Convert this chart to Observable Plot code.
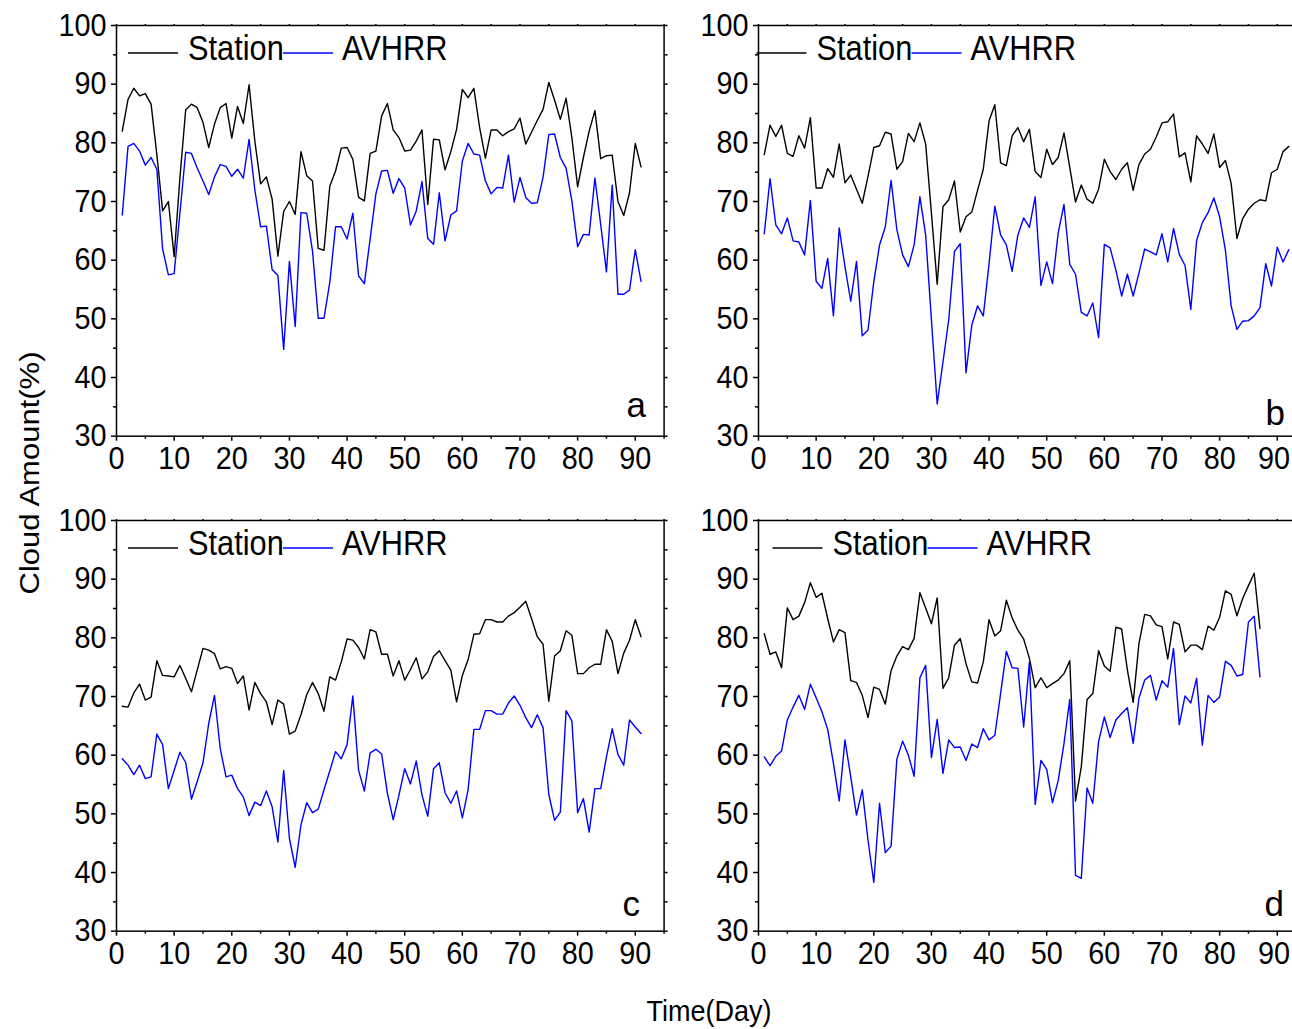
<!DOCTYPE html>
<html>
<head>
<meta charset="utf-8">
<script src="https://cdn.jsdelivr.net/npm/d3@7"></script>
<script src="https://cdn.jsdelivr.net/npm/@observablehq/plot@0.6"></script>
<style>
html, body { margin: 0; padding: 0; background: #fff; }
body { width: 1292px; height: 1029px; overflow: hidden; position: relative; }
#ylab { position: absolute; left: 30px; top: 473px; transform: translate(-50%, -50%) rotate(-90deg) scaleY(0.9);
        white-space: nowrap; font-family: "Liberation Sans", Arial, sans-serif; font-size: 31px; color: #000; }
#xlab { position: absolute; left: 709px; top: 1011px; transform: translate(-50%, -50%) scaleX(0.9);
        white-space: nowrap; font-family: "Liberation Sans", Arial, sans-serif; font-size: 30px; color: #000; }
</style>
</head>
<body>
<div id="ylab"></div>
<div id="xlab"></div>
<script>
// ---------------- data ----------------
const seriesNames = ["Station", "AVHRR"];
const seriesColors = ["#000000", "#0000ff"];
const panelLetters = ["a", "b", "c", "d"];
const yMajor = [30, 40, 50, 60, 70, 80, 90, 100];
const yMinor = [35, 45, 55, 65, 75, 85, 95];
const yAll = [30, 35, 40, 45, 50, 55, 60, 65, 70, 75, 80, 85, 90, 95, 100];
const xMajor = [0, 10, 20, 30, 40, 50, 60, 70, 80, 90];
const xMinor = [5, 15, 25, 35, 45, 55, 65, 75, 85, 95];
const xAll = [0, 5, 10, 15, 20, 25, 30, 35, 40, 45, 50, 55, 60, 65, 70, 75, 80, 85, 90, 95];
const xDomain = [0, 95];
const yDomain = [30, 100];
const axisTitleX = "Time(Day)";
const axisTitleY = "Cloud Amount(%)";

// panel a (days 1..91)
const stationA = [82.0, 87.4, 89.3, 88.0, 88.4, 86.6, 78.0, 68.4, 70.0, 60.6,
  74.0, 85.6, 86.6, 86.0, 83.5, 79.2, 83.2, 86.0, 86.7, 80.8,
  86.2, 83.3, 89.9, 80.3, 73.0, 74.2, 70.4, 60.7, 68.3, 70.0,
  67.8, 78.5, 74.4, 73.5, 62.0, 61.7, 72.6, 75.2, 79.1, 79.2,
  77.2, 70.7, 70.1, 78.2, 78.6, 84.6, 86.7, 82.2, 80.9, 78.6,
  78.75, 80.3, 82.2, 69.5, 80.6, 80.5, 75.4, 78.5, 82.3, 89.1,
  87.7, 89.3, 82.6, 77.4, 82.2, 82.2, 81.2, 81.9, 82.4, 84.2,
  79.8, 81.8, 83.8, 85.7, 90.3, 87.3, 84.0, 87.6, 80.9, 72.5,
  77.5, 82.0, 85.5, 77.3, 77.8, 77.9, 70.0, 67.6, 71.5, 79.9,
  75.9];
const avhrrA = [67.7, 79.4, 79.9, 78.6, 76.2, 77.5, 75.5, 61.9, 57.5, 57.7,
  68.0, 78.4, 78.2, 75.7, 73.5, 71.2, 74.2, 76.3, 76.0, 74.3,
  75.5, 74.0, 80.6, 72.0, 65.7, 65.8, 58.4, 57.4, 44.8, 59.8,
  48.7, 68.1, 68.0, 61.6, 50.1, 50.1, 56.2, 65.7, 65.7, 63.6,
  68.0, 57.3, 56.0, 63.6, 71.3, 75.2, 75.3, 71.4, 73.9, 72.3,
  66.0, 68.4, 73.4, 63.7, 62.7, 71.5, 63.3, 67.7, 68.4, 76.9,
  79.9, 78.1, 77.9, 73.5, 71.3, 72.4, 72.3, 77.9, 69.9, 74.1,
  70.7, 69.7, 69.8, 74.1, 81.4, 81.5, 77.5, 75.7, 70.1, 62.3,
  64.4, 64.3, 74.0, 66.1, 58.0, 72.8, 54.2, 54.2, 54.9, 61.8,
  56.4];

// panel b (days 1..92)
const stationB = [78.0, 83.0, 81.1, 83.0, 78.2, 77.7, 81.2, 79.1, 84.3, 72.3,
  72.3, 75.6, 74.1, 79.8, 73.2, 74.5, 72.1, 69.7, 74.3, 79.2,
  79.5, 81.8, 81.5, 75.5, 76.8, 81.6, 80.2, 83.4, 79.8, 68.0,
  55.9, 69.1, 70.3, 73.5, 64.8, 67.4, 68.2, 71.9, 75.5, 83.75,
  86.5, 76.6, 76.1, 81.2, 82.6, 80.2, 82.3, 75.1, 74.1, 78.9,
  76.3, 77.5, 81.7, 75.8, 69.9, 72.8, 70.4, 69.7, 72.1, 77.2,
  75.1, 73.75, 75.5, 76.6, 71.9, 76.3, 78.1, 78.9, 81.0, 83.4,
  83.6, 84.9, 77.6, 78.3, 73.35, 81.2, 79.8, 78.2, 81.5, 75.8,
  77.0, 73.1, 63.7, 67.1, 68.7, 69.7, 70.3, 70.1, 74.9, 75.5,
  78.5, 79.4];
const avhrrB = [64.5, 73.9, 66.0, 64.5, 67.2, 63.3, 63.1, 60.9, 70.2, 56.4,
  55.2, 60.3, 50.5, 65.5, 58.9, 53.0, 59.8, 47.1, 48.1, 56.3,
  62.6, 65.7, 73.6, 65.2, 60.9, 58.9, 62.6, 70.8, 64.3, 49.8,
  35.5, 42.6, 49.8, 61.5, 62.8, 40.8, 48.9, 52.2, 50.5, 59.4,
  69.2, 64.3, 62.6, 58.1, 64.3, 67.2, 65.6, 70.8, 55.7, 59.7,
  56.0, 64.7, 69.5, 59.3, 57.6, 51.1, 50.5, 52.7, 46.8, 62.7,
  62.1, 58.3, 53.9, 57.6, 53.9, 57.8, 61.9, 61.4, 60.9, 64.5,
  59.7, 65.4, 61.0, 59.1, 51.6, 63.3, 66.4, 68.1, 70.6, 67.4,
  61.7, 52.2, 48.2, 49.6, 49.7, 50.5, 51.9, 59.4, 55.6, 62.2,
  59.7, 61.8];

// panel c (days 1..91)
const stationC = [68.35, 68.2, 70.6, 72.1, 69.4, 69.9, 76.1, 73.6, 73.5, 73.35,
  75.3, 73.1, 70.8, 74.5, 78.2, 77.9, 77.3, 74.7, 75.1, 74.8,
  72.2, 73.5, 67.7, 72.4, 70.5, 69.1, 65.2, 69.4, 68.7, 63.6,
  64.1, 66.9, 70.3, 72.4, 70.5, 67.5, 73.35, 72.8, 75.9, 79.8,
  79.6, 78.35, 76.4, 81.4, 81.0, 77.2, 77.2, 73.5, 76.1, 72.8,
  74.6, 76.6, 73.0, 74.2, 76.8, 77.8, 76.1, 74.5, 69.1, 73.6,
  76.3, 80.6, 80.7, 83.1, 83.1, 82.7, 82.7, 83.7, 84.3, 85.2,
  86.25, 83.3, 80.2, 78.9, 69.2, 76.9, 77.8, 81.2, 80.45, 73.9,
  73.9, 74.9, 75.5, 75.5, 81.4, 79.4, 73.9, 77.4, 79.6, 83.1,
  80.2];
const avhrrC = [59.4, 58.3, 56.7, 58.3, 56.0, 56.3, 63.6, 61.8, 54.3, 57.4,
  60.5, 58.75, 52.5, 55.5, 58.7, 65.4, 70.2, 61.1, 56.3, 56.6,
  54.3, 52.9, 49.7, 52.0, 51.4, 53.9, 51.2, 45.2, 57.4, 45.8,
  40.9, 48.1, 51.9, 50.2, 50.8, 54.1, 57.3, 60.6, 59.4, 61.8,
  70.1, 57.4, 53.9, 60.4, 61.0, 60.2, 53.5, 49.0, 53.2, 57.7,
  55.1, 59.0, 53.2, 49.6, 57.7, 58.7, 53.6, 51.8, 53.9, 49.3,
  54.1, 64.4, 64.4, 67.6, 67.6, 67.0, 67.0, 68.9, 70.1, 68.5,
  66.4, 64.7, 66.9, 64.7, 53.3, 48.9, 50.3, 67.6, 65.85, 50.2,
  52.6, 46.9, 54.3, 54.3, 59.7, 64.5, 60.1, 58.3, 66.0, 64.8,
  63.7];

// panel d (days 1..87)
const stationD = [80.7, 77.2, 77.6, 74.9, 85.1, 83.1, 83.7, 86.0, 89.4, 86.9,
  87.6, 83.3, 79.3, 81.4, 80.9, 72.7, 72.4, 70.2, 66.4, 71.6,
  71.2, 68.7, 74.4, 76.9, 78.5, 78.0, 79.9, 87.7, 85.1, 82.4,
  86.8, 71.4, 73.2, 78.75, 79.9, 75.6, 72.5, 72.3, 75.9, 83.1,
  80.3, 81.2, 86.4, 83.4, 81.3, 79.8, 76.5, 71.5, 73.2, 71.5,
  72.2, 72.8, 73.9, 76.1, 52.2, 58.0, 69.5, 70.5, 77.8, 75.2,
  74.3, 81.8, 81.5, 74.5, 69.0, 79.0, 84.0, 83.75, 82.2, 81.9,
  76.4, 82.7, 82.3, 77.6, 78.75, 78.75, 78.0, 82.0, 81.3, 83.5,
  88.0, 87.4, 83.75, 86.7, 88.9, 91.0, 81.6];
const avhrrD = [59.7, 58.2, 59.8, 60.7, 66.0, 68.2, 70.2, 67.8, 72.1, 69.8,
  67.4, 64.4, 58.6, 52.2, 62.6, 56.3, 49.8, 54.1, 45.5, 38.3,
  51.8, 43.4, 44.5, 59.3, 62.4, 60.0, 56.4, 73.2, 75.3, 59.6,
  66.1, 56.9, 62.6, 61.3, 61.4, 59.1, 61.9, 61.3, 64.5, 62.6,
  63.4, 70.5, 77.7, 74.9, 74.8, 64.8, 75.9, 51.6, 59.1, 57.6,
  51.9, 55.7, 62.0, 69.5, 39.5, 39.0, 54.4, 51.8, 62.3, 66.5,
  63.0, 66.0, 67.1, 68.1, 62.0, 69.7, 72.8, 73.6, 69.4, 72.7,
  71.6, 78.2, 65.2, 70.1, 68.9, 73.1, 61.7, 70.2, 69.0, 69.9,
  76.0, 75.3, 73.5, 73.75, 82.7, 83.7, 73.35];

// ---------------- fonts ----------------
const FONT = '"Liberation Sans", Arial, sans-serif';
const TICK_FS = 32, TICK_SQUEEZE = 0.9;
const LEGEND_FS = 35, LEGEND_SQUEEZE = 0.88;
const LETTER_FS = 35, LETTER_SQUEEZE = 0.88;
const PAGE_W = 1292;

document.getElementById("xlab").textContent = axisTitleX;
document.getElementById("ylab").textContent = axisTitleY;

// ---------------- layout ----------------
const FRAME_W = 547.6, FRAME_H = 410.7;
const M = {left: 110, top: 20, right: 14, bottom: 52};
const layout = [
  {left: 115.7, top: 24.6, legendDx: 12,   letterDx: -18, letterDy: -19},
  {left: 758,   top: 25,   legendDx: -1.5, letterDx: -21, letterDy: -11},
  {left: 115.7, top: 520.3, legendDx: 12,  letterDx: -24, letterDy: -15},
  {left: 758,   top: 520.3, legendDx: 14.5, letterDx: -22, letterDy: -15}
];
const legendGeom = {line1: [0, 50], text1: 60, line2: [155, 205], text2: 214, lineY: 28, textY: 35};

function legendMark(dxStart) {
  return (index, scales, values, dims) => {
    const g = d3.create("svg:g")
      .attr("class", "legend")
      .attr("font-family", FONT).attr("font-size", LEGEND_FS).attr("fill", "#000")
      .attr("text-anchor", "start");
    const x0 = dims.marginLeft + dxStart;
    const yl = dims.marginTop + legendGeom.lineY;
    const yt = dims.marginTop + legendGeom.textY;
    g.append("line").attr("x1", x0 + legendGeom.line1[0]).attr("x2", x0 + legendGeom.line1[1])
      .attr("y1", yl).attr("y2", yl).attr("stroke", seriesColors[0]).attr("stroke-width", 1.4);
    g.append("text").attr("x", x0 + legendGeom.text1).attr("y", yt).text(seriesNames[0]);
    g.append("line").attr("x1", x0 + legendGeom.line2[0]).attr("x2", x0 + legendGeom.line2[1])
      .attr("y1", yl).attr("y2", yl).attr("stroke", seriesColors[1]).attr("stroke-width", 1.4);
    g.append("text").attr("x", x0 + legendGeom.text2).attr("y", yt).text(seriesNames[1]);
    return g.node();
  };
}

function squeeze(textEls, k) {
  textEls.forEach(t => {
    if (!t.textContent) return;
    const w = t.getComputedTextLength();
    if (w > 0) {
      t.setAttribute("textLength", (w * k).toFixed(2));
      t.setAttribute("lengthAdjust", "spacingAndGlyphs");
    }
  });
}

// a tick label that would spill past the page's right edge is right-aligned just inside it
function keepInside(textEls) {
  textEls.forEach(t => {
    if (!t.textContent) return;
    const w0 = t.getComputedTextLength();
    const r = t.getBoundingClientRect();
    const centre = (r.left + r.right) / 2;
    if (centre + w0 / 2 > PAGE_W - 2) {
      const shift = (PAGE_W - 2) - centre;
      t.setAttribute("text-anchor", "end");
      t.setAttribute("transform", (t.getAttribute("transform") || "") + ` translate(${shift.toFixed(2)},0)`);
    }
  });
}

function makePanel(i, station, avhrr) {
  const rows = [];
  station.forEach((v, k) => rows.push({day: k + 1, value: v, series: seriesNames[0]}));
  avhrr.forEach((v, k) => rows.push({day: k + 1, value: v, series: seriesNames[1]}));
  const L = layout[i];
  const blank = () => "";
  const svg = Plot.plot({
    width: M.left + FRAME_W + M.right,
    height: M.top + FRAME_H + M.bottom,
    marginLeft: M.left, marginRight: M.right, marginTop: M.top, marginBottom: M.bottom,
    x: {domain: xDomain},
    y: {domain: yDomain},
    color: {domain: seriesNames, range: seriesColors},
    style: {fontFamily: FONT, fontSize: TICK_FS + "px", color: "#000", background: "transparent", overflow: "visible"},
    marks: [
      Plot.line(rows, {x: "day", y: "value", stroke: "series", z: "series", strokeWidth: 1.4}),
      Plot.frame({stroke: "#000", strokeWidth: 1.5}),
      Plot.axisY({ticks: yMajor, anchor: "left", tickSize: 5, tickPadding: 5, fontSize: TICK_FS, label: null, strokeWidth: 1.5, ariaLabel: "y-major"}),
      Plot.axisY({ticks: yMinor, anchor: "left", tickSize: 3, tickFormat: blank, label: null, strokeWidth: 1.5}),
      Plot.axisY({ticks: yAll, anchor: "right", tickSize: 3, tickFormat: blank, label: null, strokeWidth: 1.5}),
      Plot.axisX({ticks: xMajor, anchor: "bottom", tickSize: 5, tickPadding: 5, fontSize: TICK_FS, label: null, strokeWidth: 1.5, ariaLabel: "x-major"}),
      Plot.axisX({ticks: xMinor, anchor: "bottom", tickSize: 3, tickFormat: blank, label: null, strokeWidth: 1.5}),
      Plot.axisX({ticks: xAll, anchor: "top", tickSize: 2, tickFormat: blank, label: null, strokeWidth: 1.5}),
      Plot.text([panelLetters[i]], {text: d => d, frameAnchor: "bottom-right", dx: L.letterDx, dy: L.letterDy,
        fontSize: LETTER_FS, textAnchor: "end", lineAnchor: "bottom", fill: "#000", ariaLabel: "panel-letter"}),
      legendMark(L.legendDx)
    ]
  });
  svg.style.position = "absolute";
  svg.style.left = (L.left - M.left) + "px";
  svg.style.top = (L.top - M.top) + "px";
  document.body.appendChild(svg);
  keepInside(svg.querySelectorAll('g[aria-label^="x-major"] text'));
  // horizontally condensed lettering, as in the reference figure
  squeeze(svg.querySelectorAll('g[aria-label^="y-major"] text, g[aria-label^="x-major"] text'), TICK_SQUEEZE);
  squeeze(svg.querySelectorAll("g.legend text"), LEGEND_SQUEEZE);
  squeeze(svg.querySelectorAll('g[aria-label="panel-letter"] text'), LETTER_SQUEEZE);
}

makePanel(0, stationA, avhrrA);
makePanel(1, stationB, avhrrB);
makePanel(2, stationC, avhrrC);
makePanel(3, stationD, avhrrD);
</script>
</body>
</html>
